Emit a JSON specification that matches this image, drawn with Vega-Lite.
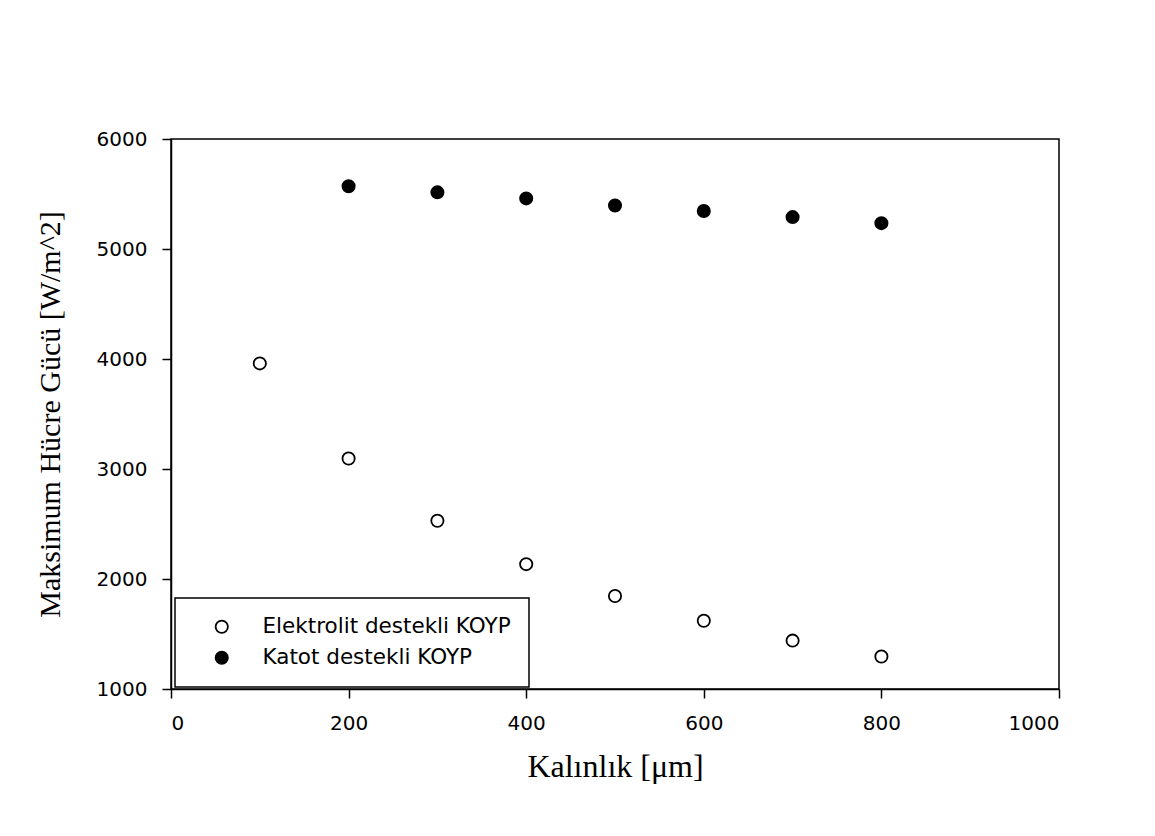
{
  "$schema": "https://vega.github.io/schema/vega-lite/v6.json",
  "autosize": "none",
  "width": 888,
  "height": 550,
  "padding": {"left": 171, "top": 139, "right": 96, "bottom": 147},
  "background": "white",
  "data": {
    "values": [
      {"series": "Elektrolit destekli KOYP", "thickness": 100, "power": 3960},
      {"series": "Elektrolit destekli KOYP", "thickness": 200, "power": 3095},
      {"series": "Elektrolit destekli KOYP", "thickness": 300, "power": 2530},
      {"series": "Elektrolit destekli KOYP", "thickness": 400, "power": 2135},
      {"series": "Elektrolit destekli KOYP", "thickness": 500, "power": 1845},
      {"series": "Elektrolit destekli KOYP", "thickness": 600, "power": 1620},
      {"series": "Elektrolit destekli KOYP", "thickness": 700, "power": 1440},
      {"series": "Elektrolit destekli KOYP", "thickness": 800, "power": 1295},
      {"series": "Katot destekli KOYP", "thickness": 200, "power": 5570},
      {"series": "Katot destekli KOYP", "thickness": 300, "power": 5515},
      {"series": "Katot destekli KOYP", "thickness": 400, "power": 5460},
      {"series": "Katot destekli KOYP", "thickness": 500, "power": 5395},
      {"series": "Katot destekli KOYP", "thickness": 600, "power": 5345},
      {"series": "Katot destekli KOYP", "thickness": 700, "power": 5290},
      {"series": "Katot destekli KOYP", "thickness": 800, "power": 5235}
    ]
  },
  "mark": {"type": "point", "shape": "circle", "filled": true, "stroke": "black", "strokeWidth": 1.8, "size": 150, "opacity": 1},
  "encoding": {
    "x": {
      "field": "thickness", "type": "quantitative",
      "scale": {"domain": [0, 1000], "nice": false, "zero": false},
      "axis": {"values": [0, 200, 400, 600, 800, 1000], "format": "d", "title": "Kalınlık [μm]", "titleFontSize": 32, "titlePadding": 18, "labelPadding": 15}
    },
    "y": {
      "field": "power", "type": "quantitative",
      "scale": {"domain": [1000, 6000], "nice": false, "zero": false},
      "axis": {"values": [1000, 2000, 3000, 4000, 5000, 6000], "format": "d", "title": "Maksimum Hücre Gücü [W/m^2]", "titleFontSize": 30, "titlePadding": 31, "labelPadding": 15}
    },
    "fill": {
      "field": "series", "type": "nominal",
      "scale": {"domain": ["Elektrolit destekli KOYP", "Katot destekli KOYP"], "range": ["white", "black"]},
      "legend": {
        "title": null, "orient": "none", "legendX": 4, "legendY": 459,
        "strokeColor": "black", "padding": 18,
        "symbolOffset": 18, "labelOffset": 30, "rowPadding": 8, "labelLimit": 600,
        "symbolType": "circle", "symbolSize": 150, "symbolStrokeColor": "black", "symbolStrokeWidth": 1.8,
        "labelFont": "DejaVu Sans", "labelFontSize": 21.5, "labelColor": "black", "fillColor": "white"
      }
    }
  },
  "config": {
    "view": {"stroke": "black", "strokeWidth": 1.5},
    "legend": {"strokeWidth": 1.5},
    "axis": {
      "grid": false,
      "domainColor": "black", "domainWidth": 1.5,
      "tickColor": "black", "tickWidth": 1.5, "tickSize": 9,
      "labelFont": "DejaVu Sans", "labelFontSize": 20, "labelColor": "black",
      "titleFont": "Liberation Serif", "titleFontSize": 31, "titleFontWeight": "normal", "titleColor": "black"
    }
  }
}
